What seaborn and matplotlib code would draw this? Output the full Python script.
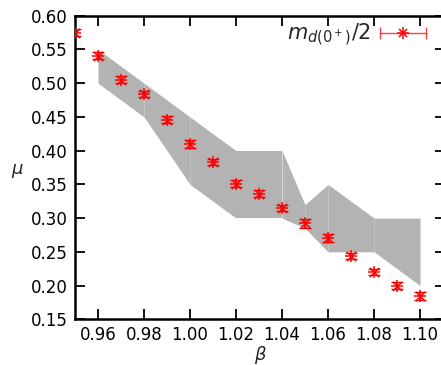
import matplotlib
matplotlib.use("Agg")
import matplotlib.pyplot as plt
import seaborn as sns
import numpy as np

sns.set_theme(style="ticks")
plt.rcParams["font.family"] = ["DejaVu Sans"]
plt.rcParams["mathtext.fontset"] = "dejavusans"

# data points m_d(0+)/2
beta = [0.95, 0.96, 0.97, 0.98, 0.99, 1.00, 1.01, 1.02, 1.03, 1.04,
        1.05, 1.06, 1.07, 1.08, 1.09, 1.10]
mu = [0.575, 0.541, 0.505, 0.484, 0.446, 0.410, 0.383, 0.351, 0.336, 0.315,
      0.292, 0.270, 0.244, 0.220, 0.200, 0.185]
mu_err = [0.005, 0.005, 0.005, 0.005, 0.005, 0.006, 0.005, 0.005, 0.005, 0.005,
          0.006, 0.006, 0.005, 0.005, 0.005, 0.006]

# grey band
band_beta = [0.96, 0.98, 1.00, 1.02, 1.04, 1.05, 1.06, 1.08, 1.10]
band_hi = [0.55, 0.50, 0.45, 0.40, 0.40, 0.32, 0.35, 0.30, 0.30]
band_lo = [0.50, 0.45, 0.35, 0.30, 0.30, 0.285, 0.25, 0.25, 0.20]

RED = "#ff0000"
GREY = "#b3b3b3"

fig = plt.figure(figsize=(4.41, 3.65), dpi=100)
ax = fig.add_axes([75 / 441, 45.7 / 365, 370 / 441, 303.6 / 365])

# fill segment by segment (gives the faint seams)
for i in range(len(band_beta) - 1):
    ax.fill_between(band_beta[i:i + 2], band_lo[i:i + 2], band_hi[i:i + 2],
                    color=GREY, linewidth=0, zorder=1)

ax.errorbar(beta, mu, yerr=mu_err, fmt="none", ecolor=RED, elinewidth=1,
            capsize=4, capthick=1, zorder=3)
sns.scatterplot(x=beta, y=mu, marker="+", s=70, color=RED, linewidth=1.1,
                ax=ax, zorder=4)
sns.scatterplot(x=beta, y=mu, marker="x", s=45, color=RED, linewidth=1.1,
                ax=ax, zorder=4)

ax.set_xlim(0.95, 0.95 + 0.16 * 370 / 368)
ax.set_ylim(0.15, 0.60)
ax.set_xticks([0.96, 0.98, 1.00, 1.02, 1.04, 1.06, 1.08, 1.10])
ax.set_yticks(np.arange(0.15, 0.601, 0.05))
ax.xaxis.set_major_formatter(matplotlib.ticker.FormatStrFormatter("%.2f"))
ax.yaxis.set_major_formatter(matplotlib.ticker.FormatStrFormatter("%.2f"))
ax.tick_params(direction="in", length=7, width=1.3, labelsize=12,
               top=True, right=True, colors="black", pad=5)
for sp in ax.spines.values():
    sp.set_visible(True)
    sp.set_linewidth(1.8)
    sp.set_color("black")
ax.spines["right"].set_visible(False)

ax.set_xlabel(r"$\beta$", fontsize=13, labelpad=0)
ax.set_ylabel(r"$\mu$", fontsize=13, rotation=0, va="center")
ax.yaxis.set_label_coords(-0.155, 0.49)

# legend entry drawn by hand, gnuplot style
leg_x, leg_y = 1.0926, 0.5744
ax.text(1.0783, leg_y - 0.002, r"$m_{d(0^+)}/2$", fontsize=15, ha="right",
        va="center", zorder=5)
ax.errorbar([leg_x], [leg_y], xerr=[0.0098], fmt="none", ecolor=RED,
            elinewidth=1, capsize=4, capthick=1, zorder=5, alpha=0.75)
ax.plot([leg_x], [leg_y], marker="+", ms=8, color=RED, mew=1.1, zorder=6)
ax.plot([leg_x], [leg_y], marker="x", ms=6, color=RED, mew=1.1, zorder=6)

fig.savefig("out.png", dpi=100, facecolor="white")
